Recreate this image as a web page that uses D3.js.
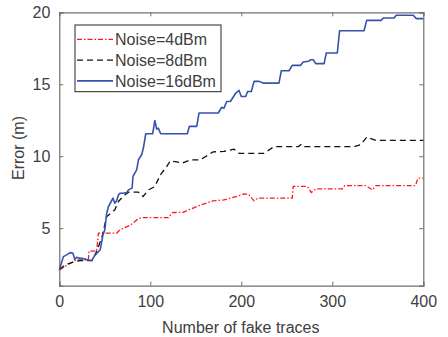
<!DOCTYPE html>
<html>
<head>
<meta charset="utf-8">
<script src="https://cdn.jsdelivr.net/npm/d3@7"></script>
<style>
  body { margin: 0; background: #fff; }
  text { font-family: "Liberation Sans", Arial, sans-serif; fill: #404040; }
</style>
</head>
<body>
<div id="graph"></div>
<script>
const width = 448,
      height = 337

const margin = { top: 12.3, right: 24.7, bottom: 51.3, left: 59.3 }

// data
const x_ticks = [0, 100, 200, 300, 400]
const y_ticks = [5, 10, 15, 20]

const series_labels = ["Noise=4dBm", "Noise=8dBm", "Noise=16dBm"]

const noise4_x = [0, 8, 19, 32, 32.5, 41, 43, 63, 67, 78, 85, 90, 120, 124, 136, 155, 169, 181, 195, 203, 208, 214, 218, 256, 257, 272.5, 277, 282, 311, 313.6, 337, 344, 348, 391.6, 394, 400]
const noise4_y = [2.1, 2.4, 2.8, 2.8, 3.4, 3.4, 4.65, 4.65, 4.9, 5.2, 5.57, 5.73, 5.73, 6.08, 6.1, 6.6, 6.9, 6.96, 7.2, 7.38, 7.35, 6.9, 7.08, 7.08, 7.9, 7.9, 7.47, 7.73, 7.73, 7.96, 7.96, 7.66, 7.96, 7.96, 8.47, 8.47]

const noise8_x = [0, 8, 17, 23, 36, 41, 47, 52, 61, 65, 70, 76, 87, 92, 98, 105, 111, 118, 122, 129, 135, 144, 155, 169, 181, 192, 197.5, 225, 236, 263, 266, 269, 324, 331, 338, 348, 400]
const noise8_y = [2.14, 2.5, 2.67, 2.74, 2.74, 3.37, 4.4, 5.8, 6.27, 6.85, 7.2, 7.5, 7.5, 7.2, 7.66, 7.89, 8.7, 9.28, 9.68, 9.6, 9.52, 9.75, 9.75, 10.3, 10.33, 10.49, 10.2, 10.2, 10.67, 10.67, 10.84, 10.67, 10.67, 10.79, 11.33, 11.1, 11.1]

const noise16_x = [0, 4.5, 8, 12, 15, 17, 19, 23, 25, 34, 36, 39, 45, 48, 50, 52, 54, 56, 59, 61, 63, 65, 67, 70, 74, 76, 80, 81, 85, 87, 90.5, 92.5, 95, 102.6, 105, 107, 108.8, 111.4, 140.7, 142.9, 151, 153.5, 174.7, 178.5, 181, 184, 188, 194, 197.5, 200, 204.8, 207, 211, 214, 219.5, 224, 241.4, 244, 252.4, 256, 265, 268, 274, 276, 279, 281.8, 291, 293.4, 305.5, 308, 334.8, 337.8, 353.9, 356, 367.8, 370.3, 389, 392.3, 400]
const noise16_y = [2.09, 3.02, 3.14, 3.3, 3.25, 2.84, 2.97, 2.9, 2.9, 2.75, 2.79, 3.1, 3.5, 4.53, 4.88, 6.0, 6.5, 6.73, 7.08, 6.73, 6.9, 7.31, 7.43, 7.43, 7.47, 7.66, 7.78, 8.59, 9.05, 9.75, 10.1, 10.6, 11.56, 11.56, 12.48, 11.88, 11.95, 11.56, 11.56, 12.07, 12.07, 13.0, 13.0, 13.4, 13.34, 13.8, 13.8, 14.39, 14.57, 14.15, 14.15, 14.5, 14.5, 15.2, 15.2, 15.08, 15.08, 15.94, 15.94, 16.31, 16.31, 16.55, 16.6, 16.7, 16.7, 16.43, 16.43, 17.17, 17.17, 18.72, 18.72, 19.44, 19.44, 19.6, 19.6, 19.79, 19.79, 19.56, 19.56]

const series = [
    { label: series_labels[0], xs: noise4_x, ys: noise4_y, color: "#ff1a1a", dash: "5,2,1.5,2", w: 1.3 },
    { label: series_labels[1], xs: noise8_x, ys: noise8_y, color: "#111111", dash: "6,4", w: 1.3 },
    { label: series_labels[2], xs: noise16_x, ys: noise16_y, color: "#3553ad", dash: null, w: 1.6 }
]

const inner_w = width - margin.left - margin.right,
      inner_h = height - margin.top - margin.bottom

const svg = d3.select("#graph")
    .append("svg")
    .attr("width", width)
    .attr("height", height)
    .append("g")
    .attr("transform", `translate(${margin.left}, ${margin.top})`)

const x = d3.scaleLinear().domain([0, 400]).range([0, inner_w])
const y = d3.scaleLinear().domain([1, 20]).range([inner_h, 0])

const axis_color = "#707070"

// bottom + left axes, ticks pointing inward like matlab
const x_axis = svg.append("g")
    .attr("transform", `translate(0, ${inner_h})`)
    .call(d3.axisBottom(x).tickValues(x_ticks).tickSize(-4).tickPadding(10))
const y_axis = svg.append("g")
    .call(d3.axisLeft(y).tickValues(y_ticks).tickSize(-4).tickPadding(9))
// top + right (box)
const x_top = svg.append("g")
    .call(d3.axisTop(x).tickValues(x_ticks).tickSize(-4).tickFormat(""))
const y_right = svg.append("g")
    .attr("transform", `translate(${inner_w}, 0)`)
    .call(d3.axisRight(y).tickValues(y_ticks).tickSize(-4).tickFormat(""))

for (const a of [x_axis, y_axis, x_top, y_right]) {
    a.select(".domain").attr("stroke", axis_color).attr("stroke-width", 1.2)
    a.selectAll(".tick line").attr("stroke", axis_color)
    a.selectAll(".tick text")
        .attr("font-size", "16px")
        .attr("fill", "#404040")
        .style("font-family", "Liberation Sans, Arial, sans-serif")
}

svg.append("text")
    .attr("transform", `translate(${x(200) - 0.5}, ${inner_h + 47})`)
    .attr("font-size", "16px")
    .style("text-anchor", "middle")
    .text("Number of fake traces")

svg.append("text")
    .attr("transform", `translate(${-35}, ${y(10.5) - 1}) rotate(-90)`)
    .attr("font-size", "16px")
    .style("text-anchor", "middle")
    .text("Error (m)")

const plot = svg.append("g")

for (const s of series) {
    const pts = s.xs.map((v, i) => [v, s.ys[i]])
    plot.append("path")
        .datum(pts)
        .attr("fill", "none")
        .attr("stroke", s.color)
        .attr("stroke-width", s.w)
        .attr("stroke-dasharray", s.dash)
        .attr("stroke-linejoin", "round")
        .attr("d", d3.line()
            .x(d => x(d[0]))
            .y(d => y(d[1]))
        )
}

// legend
const legend = svg.append("g")
    .attr("transform", `translate(${75 - margin.left}, ${25 - margin.top})`)

legend.append("rect")
    .attr("width", 146)
    .attr("height", 66.7)
    .attr("fill", "#fff")
    .attr("stroke", "#262626")
    .attr("stroke-width", 1)

series.forEach((s, i) => {
    const row_y = 14.3 + i * 20.8
    legend.append("line")
        .attr("x1", 2)
        .attr("x2", 38)
        .attr("y1", row_y)
        .attr("y2", row_y)
        .attr("stroke", s.color)
        .attr("stroke-width", s.w)
        .attr("stroke-dasharray", s.dash)
    legend.append("text")
        .attr("x", 40)
        .attr("y", row_y + 5.8)
        .attr("font-size", "16px")
        .attr("fill", "#111")
        .text(s.label)
})
</script>
</body>
</html>
